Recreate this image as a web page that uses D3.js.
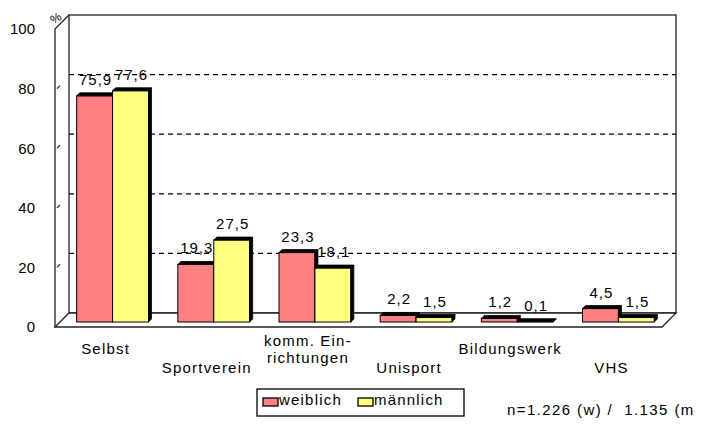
<!DOCTYPE html>
<html>
<head>
<meta charset="utf-8">
<script src="https://cdn.jsdelivr.net/npm/d3@7"></script>
<style>
body { margin: 0; background: #fff; }
svg { display: block; }
text { font-family: Arial, "Liberation Sans", sans-serif; fill: #000; }
</style>
</head>
<body>
<div id="chart"></div>
<script>
// data
const categories = ['Selbst', 'Sportverein', 'komm. Ein-\nrichtungen', 'Unisport', 'Bildungswerk', 'VHS'];
const seriesNames = ['weiblich', 'männlich'];
const weiblich = [75.9, 19.3, 23.3, 2.2, 1.2, 4.5];
const maennlich = [77.6, 27.5, 18.1, 1.5, 0.1, 1.5];
const yTicks = [0, 20, 40, 60, 80, 100];
const footnote = 'n=1.226 (w) /  1.135 (m';

const colors = { 'weiblich': '#ff8080', 'männlich': '#ffff80' };
const seriesValues = { 'weiblich': weiblich, 'männlich': maennlich };

const width = 705, height = 434;
const depth = 14;           // offset between front and back wall
const barDepth = 3;         // visible top/side of each column
const fmt = v => String(v.toFixed(1)).replace('.', ',');

const svg = d3.select('#chart').append('svg')
	.attr('width', width).attr('height', height);

// front plane: axis at x=55, 0 at y=327
const yFront = d3.scaleLinear().domain([0, 100]).range([327, 29]);
const yBar = d3.scaleLinear().domain([0, 100]).range([322, 24]);
const left = 55, right = 662;

const x0 = d3.scaleBand().domain(categories).range([62, 669]).paddingInner(0.29).paddingOuter(0.145);
const x1 = d3.scaleBand().domain(seriesNames).range([0, x0.bandwidth()]);

// back wall
svg.append('rect')
	.attr('x', left + depth).attr('y', yFront(100) - depth)
	.attr('width', right - left).attr('height', yFront(0) - yFront(100))
	.attr('fill', '#fff').attr('stroke', '#222').attr('stroke-width', 1.3);

// dashed gridlines on back wall
svg.append('g').selectAll('line')
	.data(yTicks.filter(d => d > 0 && d < 100)).enter().append('line')
	.attr('x1', left + depth).attr('x2', right + depth)
	.attr('y1', d => yFront(d) - depth).attr('y2', d => yFront(d) - depth)
	.attr('stroke', '#000').attr('stroke-width', 1.2).attr('stroke-dasharray', '5,4');

// floor
svg.append('path')
	.attr('d', `M${left},${yFront(0)} L${left + depth},${yFront(0) - depth} L${right + depth},${yFront(0) - depth} L${right},${yFront(0)} Z`)
	.attr('fill', '#fff').attr('stroke', '#222').attr('stroke-width', 1.3);

// left side wall edge and front axis
svg.append('path')
	.attr('d', `M${left},${yFront(0)} L${left},${yFront(100)} L${left + depth},${yFront(100) - depth}`)
	.attr('fill', 'none').attr('stroke', '#222').attr('stroke-width', 1.3);

// small tick stubs
svg.append('g').selectAll('path')
	.data(yTicks.filter(d => d > 0 && d < 100)).enter().append('path')
	.attr('d', d => `M${left + 2},${yFront(d)} L${left + 5},${yFront(d) - 3}`)
	.attr('stroke', '#222').attr('stroke-width', 1.2);

const yAxis = d3.axisLeft(yFront).tickValues(yTicks).tickSize(0).tickPadding(20);
svg.append('g')
	.attr('transform', `translate(${left},0)`)
	.call(yAxis)
	.call(g => g.select('.domain').remove())
	.selectAll('text')
	.style('font-size', '15px').style('font-family', 'Arial, "Liberation Sans", sans-serif');

svg.append('text')
	.attr('x', 50).attr('y', 22)
	.attr('transform', 'rotate(-30,56,17)')
	.style('font-size', '12px')
	.text('%');

// columns
const rows = categories.map((c, i) => seriesNames.map(s => ({ cat: c, series: s, value: seriesValues[s][i] })));
const groups = svg.append('g').selectAll('g')
	.data(rows).enter().append('g')
	.attr('transform', (d, i) => `translate(${x0(categories[i])},0)`);

const bars = groups.selectAll('g').data(d => d).enter().append('g');
const bw = x1.bandwidth();

bars.append('rect')
	.attr('x', d => x1(d.series))
	.attr('y', d => yBar(d.value))
	.attr('width', bw)
	.attr('height', d => yBar(0) - yBar(d.value))
	.attr('fill', d => colors[d.series])
	.attr('stroke', '#000').attr('stroke-width', 1);

// top face
bars.append('path')
	.attr('d', d => {
		const x = x1(d.series), y = yBar(d.value);
		return `M${x},${y} L${x + barDepth},${y - barDepth} L${x + bw + barDepth},${y - barDepth} L${x + bw},${y} Z`;
	})
	.attr('fill', '#000').attr('stroke', '#000').attr('stroke-width', 0.8);

// side face
bars.append('path')
	.attr('d', d => {
		const x = x1(d.series) + bw, y = yBar(d.value), yb = yBar(0);
		return `M${x},${y} L${x + barDepth},${y - barDepth} L${x + barDepth},${yb - barDepth} L${x},${yb} Z`;
	})
	.attr('fill', '#000').attr('stroke', '#000').attr('stroke-width', 0.8);

bars.append('text')
	.attr('x', d => x1(d.series) + bw / 2 + 1)
	.attr('y', d => yBar(d.value) - 11)
	.attr('text-anchor', 'middle')
	.style('font-size', '15px')
	.style('letter-spacing', '1px')
	.text(d => fmt(d.value));

// category labels, staggered in two rows
const catLabels = svg.append('g').selectAll('text')
	.data(categories).enter().append('text')
	.attr('text-anchor', 'middle')
	.style('font-size', '15px')
	.style('letter-spacing', '1.2px')
	.attr('transform', (d, i) => `translate(${x0(d) + x0.bandwidth() / 2 - 7},${i % 2 ? 373 : 354})`);

catLabels.each(function(d) {
	const lines = d.split('\n');
	d3.select(this).selectAll('tspan')
		.data(lines).enter().append('tspan')
		.attr('x', 0)
		.attr('y', (l, j) => (j - (lines.length - 1) / 2) * 17)
		.text(l => l);
});

// legend
const legend = svg.append('g').attr('transform', 'translate(257,389)');
legend.append('rect')
	.attr('width', 207).attr('height', 27)
	.attr('fill', '#fff').attr('stroke', '#000').attr('stroke-width', 1.3);

const legendItems = legend.selectAll('g.item')
	.data(seriesNames).enter().append('g')
	.attr('class', 'item')
	.attr('transform', (d, i) => `translate(${i ? 101 : 6},9)`);

legendItems.append('rect')
	.attr('width', 15).attr('height', 8)
	.attr('fill', d => colors[d])
	.attr('stroke', '#000').attr('stroke-width', 1.3);

legendItems.append('text')
	.attr('x', 16).attr('y', 7)
	.style('font-size', '15px')
	.style('letter-spacing', '1.2px')
	.text(d => d);

svg.append('text')
	.attr('x', 507).attr('y', 415)
	.style('font-size', '15px')
	.style('letter-spacing', '1.4px')
	.style('white-space', 'pre')
	.text(footnote);
</script>
</body>
</html>
